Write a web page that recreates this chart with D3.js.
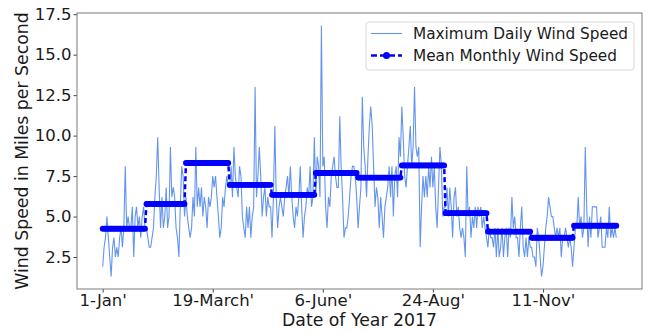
<!DOCTYPE html>
<html>
<head>
<meta charset="utf-8">
<script src="https://cdn.jsdelivr.net/npm/d3@7"></script>
<style>
  body { margin: 0; background: #fff; }
  svg { font-family: "DejaVu Sans", sans-serif; }
</style>
</head>
<body>
<div id="chart"></div>
<script>
// data
var daysInMonth = [31, 28, 31, 30, 31, 30, 31, 31, 30, 31, 30, 31];
var monthlyMean = [4.25, 5.78, 8.31, 6.96, 6.34, 7.69, 7.41, 8.16, 5.21, 4.07, 3.69, 4.44];

var dailyMax = [
  // Jan
  1.9, 3.1, 3.7, 5.0, 3.7, 2.5, 1.3, 3.1, 3.7, 2.5, 3.1, 2.5, 3.7, 4.3, 3.1, 4.3, 8.1, 4.3, 5.0, 4.3, 4.3, 5.6, 2.5, 5.0, 5.6, 4.3, 5.0, 3.7, 5.0, 5.6, 4.3,
  // Feb
  4.3, 3.7, 3.1, 3.1, 3.7, 4.3, 6.2, 7.5, 9.9, 6.8, 4.3, 6.2, 4.3, 5.0, 6.8, 4.3, 5.0, 9.3, 6.2, 6.8, 6.2, 4.3, 3.7, 2.5, 5.6, 8.1, 7.5, 5.0,
  // Mar
  6.2, 5.0, 4.3, 3.7, 4.3, 6.2, 5.0, 9.3, 5.6, 6.8, 5.6, 6.8, 5.0, 6.2, 5.6, 4.3, 6.2, 5.6, 6.2, 7.5, 6.8, 7.5, 6.2, 5.0, 3.7, 4.3, 6.2, 5.6, 6.8, 7.5, 6.8,
  // Apr
  6.8, 8.1, 6.2, 9.3, 7.5, 6.8, 6.2, 8.1, 7.5, 5.0, 4.3, 3.7, 5.6, 4.3, 5.6, 3.7, 5.0, 5.6, 13.0, 6.2, 7.5, 9.3, 7.5, 5.0, 6.2, 6.8, 5.0, 6.2, 5.6, 5.6,
  // May
  3.7, 6.2, 10.6, 6.2, 4.3, 5.6, 6.2, 5.6, 5.0, 6.2, 6.8, 7.5, 6.2, 8.1, 6.2, 5.0, 4.3, 5.6, 5.0, 6.2, 8.1, 5.6, 3.7, 5.0, 5.6, 6.8, 6.2, 8.1, 5.6, 6.2, 9.9,
  // Jun
  6.2, 8.7, 8.1, 6.2, 16.8, 8.1, 8.7, 5.6, 4.3, 6.2, 5.6, 7.5, 8.1, 8.7, 7.5, 6.8, 6.8, 11.2, 8.1, 6.2, 3.7, 4.3, 4.3, 5.0, 6.2, 7.5, 8.1, 8.1, 7.5, 6.2,
  // Jul
  4.3, 5.6, 6.8, 12.4, 9.3, 8.1, 6.2, 8.7, 10.6, 11.8, 10.6, 8.1, 5.6, 6.8, 6.2, 4.3, 6.2, 5.0, 3.7, 5.6, 6.2, 6.8, 8.1, 6.2, 8.1, 5.0, 7.5, 8.1, 6.2, 9.9, 8.7,
  // Aug
  11.8, 9.9, 7.5, 6.8, 8.1, 9.3, 10.6, 8.1, 9.3, 13.0, 9.3, 8.7, 9.3, 3.1, 5.6, 7.5, 6.2, 7.5, 6.2, 8.1, 6.8, 8.7, 6.8, 8.1, 5.6, 4.3, 6.8, 9.3, 8.1, 5.0, 5.6,
  // Sep
  5.6, 6.8, 5.0, 6.8, 5.6, 3.7, 6.2, 6.8, 5.0, 5.6, 4.3, 3.7, 4.3, 3.7, 2.5, 8.1, 5.0, 5.6, 3.7, 5.0, 4.3, 5.6, 4.3, 5.6, 5.0, 5.6, 4.3, 5.0, 4.3, 3.7,
  // Oct
  3.1, 4.3, 3.7, 3.7, 3.1, 4.3, 2.5, 4.3, 2.5, 3.1, 4.3, 2.5, 3.7, 4.3, 2.5, 4.3, 3.7, 6.2, 4.3, 5.0, 3.7, 3.7, 2.5, 4.3, 5.6, 3.1, 2.5, 3.7, 2.5, 3.7, 3.1,
  // Nov
  3.1, 2.5, 2.5, 1.9, 4.3, 3.7, 2.5, 1.3, 1.9, 3.1, 4.3, 5.0, 6.2, 5.6, 5.0, 5.0, 4.3, 3.7, 4.3, 3.7, 4.3, 2.5, 3.7, 3.7, 4.3, 3.7, 3.1, 3.7, 3.1, 1.9,
  // Dec
  3.1, 4.3, 4.3, 6.2, 4.3, 5.0, 3.7, 4.3, 9.3, 5.6, 3.1, 5.0, 3.7, 5.6, 5.6, 5.6, 5.6, 3.7, 4.3, 5.0, 3.1, 3.1, 3.1, 4.3, 3.7, 5.6, 3.7, 4.3, 3.7, 4.3, 3.7
];

var tickDays = [0, 78, 156, 234, 312];
var tickLabels = ["1-Jan'", "19-March'", "6-June'", "24-Aug'", "11-Nov'"];
var yTicks = [2.5, 5.0, 7.5, 10.0, 12.5, 15.0, 17.5];

// mean value repeated for every day of its month
var meanByDay = [];
daysInMonth.forEach(function(n, m) {
  for (var i = 0; i < n; i++) meanByDay.push(monthlyMean[m]);
});

var margin = {top: 13, right: 6, bottom: 44, left: 77};
var width = 648 - margin.left - margin.right;
var height = 333 - margin.top - margin.bottom;

var svgRoot = d3.select("#chart")
  .append("svg")
    .attr("width", 648)
    .attr("height", 333);

var svg = svgRoot.append("g")
    .attr("transform", "translate(" + margin.left + "," + margin.top + ")");

var n = dailyMax.length - 1;
var x = d3.scaleLinear()
  .domain([-0.05 * n, n * 1.05])
  .range([0, width]);

var ext = d3.extent(dailyMax);
var pad = (ext[1] - ext[0]) * 0.05;
var y = d3.scaleLinear()
  .domain([ext[0] - pad, ext[1] + pad])
  .range([height, 0]);

// axes
var xAxis = svg.append("g")
  .attr("transform", "translate(0," + height + ")")
  .call(d3.axisBottom(x)
    .tickValues(tickDays)
    .tickFormat(function(d, i) { return tickLabels[i]; })
    .tickSize(3.5)
    .tickPadding(1.5));

var yAxis = svg.append("g")
  .call(d3.axisLeft(y)
    .tickValues(yTicks)
    .tickFormat(d3.format(".1f"))
    .tickSize(3.5)
    .tickPadding(2));

[xAxis, yAxis].forEach(function(a) {
  a.select(".domain").remove();
  a.selectAll("line").attr("stroke", "#444");
  a.selectAll("text")
    .attr("fill", "#1a1a1a")
    .style("font-size", "16.5px")
    .style("font-family", "DejaVu Sans");
});

// daily max line
svg.append("path")
  .datum(dailyMax)
  .attr("fill", "none")
  .attr("stroke", "#6495ED")
  .attr("stroke-width", 1.1)
  .attr("d", d3.line()
    .x(function(d, i) { return x(i); })
    .y(function(d) { return y(d); }));

// monthly mean: dashed line plus a dot for every day
svg.append("path")
  .datum(meanByDay)
  .attr("fill", "none")
  .attr("stroke", "#0000ff")
  .attr("stroke-width", 2.5)
  .attr("stroke-dasharray", "5,3")
  .attr("d", d3.line()
    .x(function(d, i) { return x(i); })
    .y(function(d) { return y(d); }));

svg.selectAll(".meanDot")
  .data(meanByDay)
  .enter()
  .append("circle")
    .attr("class", "meanDot")
    .attr("cx", function(d, i) { return x(i); })
    .attr("cy", function(d) { return y(d); })
    .attr("r", 2.9)
    .attr("fill", "#0000ff");

// frame
svg.append("rect")
  .attr("width", width)
  .attr("height", height)
  .attr("fill", "none")
  .attr("stroke", "#7a7a7a")
  .attr("stroke-width", 1);

// axis titles
svgRoot.append("text")
  .attr("x", margin.left + width / 2)
  .attr("y", 326)
  .attr("text-anchor", "middle")
  .attr("fill", "#1a1a1a")
  .style("font-size", "17.3px")
  .text("Date of Year 2017");

svgRoot.append("text")
  .attr("transform", "translate(28," + (margin.top + height / 2) + ") rotate(-90)")
  .attr("text-anchor", "middle")
  .attr("fill", "#1a1a1a")
  .style("font-size", "17.3px")
  .text("Wind Speed in Miles per Second");

// legend
var legend = svgRoot.append("g");
legend.append("rect")
  .attr("x", 366).attr("y", 22)
  .attr("width", 268).attr("height", 48)
  .attr("rx", 3)
  .attr("fill", "#fff")
  .attr("fill-opacity", 0.8)
  .attr("stroke", "#d9d9d9");

legend.append("line")
  .attr("x1", 371).attr("x2", 402)
  .attr("y1", 33.5).attr("y2", 33.5)
  .attr("stroke", "#6495ED").attr("stroke-width", 1.1);

legend.append("line")
  .attr("x1", 371).attr("x2", 402)
  .attr("y1", 55.5).attr("y2", 55.5)
  .attr("stroke", "#0000ff").attr("stroke-width", 2.5)
  .attr("stroke-dasharray", "6,3");
legend.append("circle")
  .attr("cx", 386.5).attr("cy", 55.5).attr("r", 3.5)
  .attr("fill", "#0000ff");

legend.selectAll(".legText")
  .data(["Maximum Daily Wind Speed", "Mean Monthly Wind Speed"])
  .enter()
  .append("text")
    .attr("class", "legText")
    .attr("x", 413)
    .attr("y", function(d, i) { return 33.5 + i * 22; })
    .attr("dy", "0.35em")
    .attr("fill", "#1a1a1a")
    .style("font-size", "15.3px")
    .text(function(d) { return d; });
</script>
</body>
</html>
